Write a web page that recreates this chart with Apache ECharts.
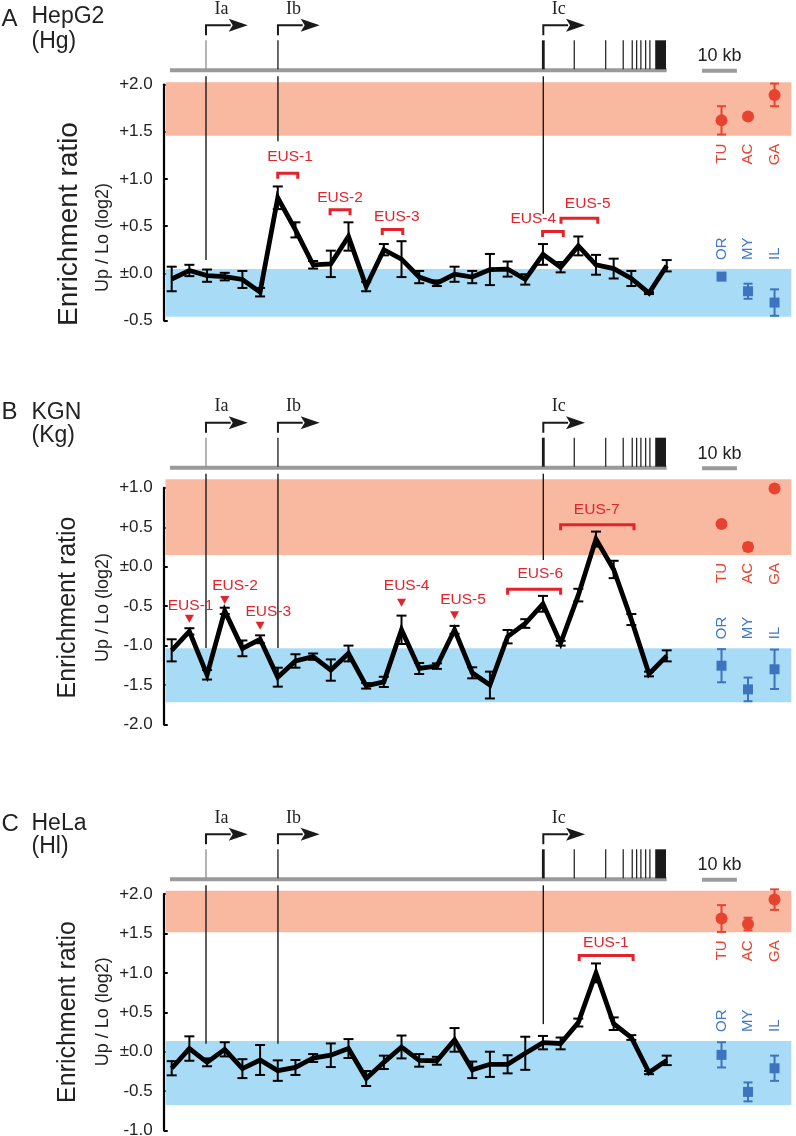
<!DOCTYPE html>
<html><head><meta charset="utf-8">
<script src="https://cdn.jsdelivr.net/npm/echarts@6/dist/echarts.min.js"></script>
<style>html,body{margin:0;padding:0;background:#fff}#c{width:796px;height:1136px}</style>
</head><body><div id="c"></div>
<script>
// ================= DATA =================
// measurement windows along the locus (index of window)
const windowIndex = [0,1,2,3,4,5,6,7,8,9,10,11,12,13,14,15,16,17,18,19,20,21,22,23,24,25,26,27,28];

// Panel A  HepG2 (Hg)
const hepg2Ratio = [-0.06,0.03,-0.025,-0.035,-0.065,-0.20,0.80,0.46,0.09,0.10,0.39,-0.14,0.25,0.15,-0.04,-0.105,-0.01,-0.04,0.04,0.045,-0.065,0.20,0.065,0.29,0.09,0.05,-0.055,-0.21,0.08];
const hepg2Err   = [0.13,0.06,0.065,0.04,0.09,0.045,0.12,0.08,0.04,0.14,0.15,0.05,0.06,0.19,0.065,0.03,0.08,0.065,0.165,0.08,0.055,0.11,0.055,0.10,0.105,0.105,0.08,0.01,0.06];
// Panel B  KGN (Kg)
const kgnRatio = [-1.06,-0.82,-1.37,-0.56,-1.035,-0.92,-1.40,-1.195,-1.14,-1.31,-1.10,-1.51,-1.46,-0.80,-1.29,-1.26,-0.80,-1.345,-1.50,-0.887,-0.72,-0.47,-0.97,-0.36,0.35,-0.035,-0.67,-1.36,-1.13];
const kgnErr   = [0.14,0.04,0.06,0.04,0.10,0.05,0.12,0.085,0.04,0.135,0.10,0.035,0.065,0.18,0.07,0.035,0.05,0.07,0.17,0.085,0.055,0.10,0.03,0.08,0.095,0.11,0.07,0.03,0.07];
// Panel C  HeLa (Hl)
const helaRatio = [-0.21,0.04,-0.135,0.03,-0.215,-0.105,-0.24,-0.20,-0.08,-0.045,0.04,-0.34,-0.135,0.06,-0.11,-0.115,0.15,-0.23,-0.16,-0.16,-0.02,0.115,0.105,0.37,1.00,0.355,0.18,-0.265,-0.11];
const helaErr   = [0.09,0.155,0.05,0.09,0.12,0.19,0.13,0.095,0.05,0.15,0.12,0.095,0.085,0.145,0.08,0.05,0.15,0.105,0.16,0.115,0.21,0.085,0.075,0.05,0.12,0.08,0.03,0.02,0.06];

// reference tissues (right side)
const tissueRed  = ['TU','AC','GA'];
const tissueBlue = ['OR','MY','IL'];
const tissuePos  = [31.1, 32.6, 34.1];
const hepg2Red = [1.62,1.66,1.89],   hepg2RedErr = [0.15,0.03,0.12];
const hepg2Blue = [-0.035,-0.19,-0.31], hepg2BlueErr = [0.03,0.08,0.14];
const kgnRed = [0.54,0.25,0.99],     kgnRedErr = [0,0.05,0];
const kgnBlue = [-1.255,-1.555,-1.30], kgnBlueErr = [0.21,0.15,0.25];
const helaRed = [1.69,1.62,1.93],    helaRedErr = [0.17,0.08,0.13];
const helaBlue = [-0.04,-0.51,-0.21],  helaBlueErr = [0.16,0.12,0.16];

// reference ranges (bands) [low, high]
const hepg2Salmon = [1.458, 2.023], hepg2Sky = [-0.46, 0.046];
const kgnSalmon   = [0.148, 1.108], kgnSky   = [-1.719, -1.034];
const helaSalmon  = [1.515, 2.043], helaSky  = [-0.676, 0.136];

// gene structure (same window-index scale)
const promoterNames = ['Ia','Ib','Ic'];
const promoterPos   = [1.94, 6.01, 21.02];
const exonPos  = [22.77,24.55,25.54,26.05,26.30,26.54,26.81,27.05];
const lastExon = [27.35, 27.96];
const geneSpan = [-0.1, 28.0];
const scaleBar = [30.0, 31.97];
// promoter guide lines: [position, lower end value]
const hepg2Links = [[1.94,0.14],[6.01,1.40],[21.02,0.63]];
const kgnLinks   = [[1.94,-1.03],[6.01,-1.03],[21.02,0.085]];
const helaLinks  = [[1.94,0.10],[6.01,0.10],[21.02,0.35]];

// EUS annotations
const hepg2Eus = [
  {name:'EUS-1', kind:'bracket', from:6.0,  to:7.13,  level:1.076, label:[6.69,1.235]},
  {name:'EUS-2', kind:'bracket', from:8.96, to:10.09, level:0.69,  label:[9.52,0.80]},
  {name:'EUS-3', kind:'bracket', from:11.91,to:13.07, level:0.48,  label:[12.73,0.60]},
  {name:'EUS-4', kind:'bracket', from:20.98,to:22.15, level:0.46,  label:[20.45,0.575]},
  {name:'EUS-5', kind:'bracket', from:22.02,to:24.1,  level:0.60,  label:[23.53,0.74]}
];
const kgnEus = [
  {name:'EUS-1', kind:'mark', at:1.0,  level:-0.71,  label:[1.07,-0.494]},
  {name:'EUS-2', kind:'mark', at:3.0,  level:-0.473, label:[3.58,-0.24]},
  {name:'EUS-3', kind:'mark', at:5.0,  level:-0.80,  label:[5.46,-0.57]},
  {name:'EUS-4', kind:'mark', at:13.0, level:-0.507, label:[13.29,-0.245]},
  {name:'EUS-5', kind:'mark', at:16.0, level:-0.667, label:[16.48,-0.413]},
  {name:'EUS-6', kind:'bracket', from:19.0, to:22.0,  level:-0.266, label:[20.85,-0.093]},
  {name:'EUS-7', kind:'bracket', from:22.0, to:26.15, level:0.55,   label:[24.04,0.72]}
];
const helaEus = [
  {name:'EUS-1', kind:'bracket', from:23.05, to:26.1, level:1.24, label:[24.56,1.383]}
];

// ================= STYLE / LAYOUT =================
const FONT = '"Liberation Sans", Arial, Helvetica, sans-serif';
const SERIF = '"Liberation Serif", "Times New Roman", serif';
const RED_TXT = '#e3232b', RED_PT = '#e8432f', BLUE_PT = '#3e74bf', BLUE_TXT = '#3f79c6';
const SALMON = '#f8b9a0', SKY = '#a8dcf6', GREY = '#9a9a9a', INK = '#1a1a1a';
const GRID_LEFT = 163.74, GRID_WIDTH = 627.6, X_MIN = -0.45, X_MAX = 35.05;

const panels = [
  {letter:'A', cell:'HepG2', abbr:'(Hg)', ratio:hepg2Ratio, err:hepg2Err,
   red:hepg2Red, redErr:hepg2RedErr, blue:hepg2Blue, blueErr:hepg2BlueErr,
   salmon:hepg2Salmon, sky:hepg2Sky, links:hepg2Links, eus:hepg2Eus,
   lay:{top:84.5, height:236, gray:70.3, min:-0.5, max:2.0, letterY:19, cellY:17, abbrY:41.5,
        t1:[69,224,28], t2:[103,237.5]}},
  {letter:'B', cell:'KGN', abbr:'(Kg)', ratio:kgnRatio, err:kgnErr,
   red:kgnRed, redErr:kgnRedErr, blue:kgnBlue, blueErr:kgnBlueErr,
   salmon:kgnSalmon, sky:kgnSky, links:kgnLinks, eus:kgnEus,
   lay:{top:487.8, height:236.7, gray:467.7, min:-2.0, max:1.0, letterY:412.7, cellY:413, abbrY:436,
        t1:[68.5,607.5,25], t2:[103,607.5]}},
  {letter:'C', cell:'HeLa', abbr:'(Hl)', ratio:helaRatio, err:helaErr,
   red:helaRed, redErr:helaRedErr, blue:helaBlue, blueErr:helaBlueErr,
   salmon:helaSalmon, sky:helaSky, links:helaLinks, eus:helaEus,
   lay:{top:894.1, height:236.4, gray:879.3, min:-1.0, max:2.0, letterY:824, cellY:824, abbrY:846.5,
        t1:[68.5,1012,25], t2:[103.3,1011.7]}}
];

function tickFmt(v){
  if (Math.abs(v) < 1e-9) return '\u00b10.0';
  return (v > 0 ? '+' : '') + v.toFixed(1);
}

function errBarItem(color, capHalf, width){
  return function(params, api){
    const x = api.value(0), lo = api.value(1), hi = api.value(2);
    if (!(hi > lo)) return null;
    const a = api.coord([x, hi]), b = api.coord([x, lo]);
    const st = {stroke: color, lineWidth: width};
    return {type:'group', children:[
      {type:'line', shape:{x1:a[0], y1:a[1], x2:b[0], y2:b[1]}, style:st},
      {type:'line', shape:{x1:a[0]-capHalf, y1:a[1], x2:a[0]+capHalf, y2:a[1]}, style:st},
      {type:'line', shape:{x1:b[0]-capHalf, y1:b[1], x2:b[0]+capHalf, y2:b[1]}, style:st}
    ]};
  };
}

const grids = [], xAxes = [], yAxes = [], series = [], graphics = [];

panels.forEach((P, p) => {
  const L = P.lay;
  const gi = grids.length;
  grids.push({left:GRID_LEFT, width:GRID_WIDTH, top:L.top, height:L.height, outerBoundsMode:'none', containLabel:false});
  grids.push({left:GRID_LEFT, width:GRID_WIDTH, top:L.gray-65, height:65, outerBoundsMode:'none', containLabel:false});
  xAxes.push({gridIndex:gi, type:'value', min:X_MIN, max:X_MAX, show:false});
  xAxes.push({gridIndex:gi+1, type:'value', min:X_MIN, max:X_MAX, show:false});
  yAxes.push({gridIndex:gi, type:'value', min:L.min, max:L.max, interval:0.5,
    axisLine:{show:true, onZero:false, lineStyle:{color:'#000', width:2.2}},
    axisTick:{show:true, inside:true, length:4, lineStyle:{color:'#000', width:2}},
    splitLine:{show:false},
    axisLabel:{margin:11, fontSize:17, fontFamily:FONT, color:'#222', formatter:tickFmt}});
  yAxes.push({gridIndex:gi+1, type:'value', min:0, max:65, show:false});

  const ax = {xAxisIndex:gi, yAxisIndex:gi};
  const axd = {xAxisIndex:gi+1, yAxisIndex:gi+1};

  // reference bands
  series.push(Object.assign({type:'custom', clip:false, z:1, silent:true,
    data:[[X_MIN+0.1, X_MAX, P.salmon[0], P.salmon[1]], [X_MIN+0.1, X_MAX, P.sky[0], P.sky[1]]],
    renderItem:(params, api) => {
      const a = api.coord([api.value(0), api.value(3)]);
      const b = api.coord([api.value(1), api.value(2)]);
      return {type:'rect', shape:{x:a[0], y:a[1], width:b[0]-a[0], height:b[1]-a[1]},
        style:{fill: params.dataIndex === 0 ? SALMON : SKY}};
    }}, ax));

  // promoter guide lines
  series.push(Object.assign({type:'custom', clip:false, z:3, silent:true,
    data:P.links.map(l => [l[0], l[1]]),
    renderItem:(params, api) => {
      const b = api.coord([api.value(0), api.value(1)]);
      return {type:'line', shape:{x1:b[0], y1:L.gray+6, x2:b[0], y2:b[1]}, style:{stroke:INK, lineWidth:1.4}};
    }}, ax));

  // error bars on the profile
  series.push(Object.assign({type:'custom', clip:false, z:4, silent:true,
    data:windowIndex.map(i => [i, P.ratio[i]-P.err[i], P.ratio[i]+P.err[i]]),
    renderItem:errBarItem('#000', 5, 2)}, ax));

  // profile line
  series.push(Object.assign({type:'line', z:5, silent:true, symbol:'none', showSymbol:false,
    data:windowIndex.map(i => [i, P.ratio[i]]),
    lineStyle:{color:'#000', width:4.8, join:'miter', miterLimit:6}}, ax));

  // tissue error bars
  series.push(Object.assign({type:'custom', clip:false, z:6, silent:true,
    data:tissuePos.map((x,i) => [x, P.red[i]-P.redErr[i], P.red[i]+P.redErr[i]]),
    renderItem:errBarItem(RED_PT, 4.5, 2)}, ax));
  series.push(Object.assign({type:'custom', clip:false, z:6, silent:true,
    data:tissuePos.map((x,i) => [x, P.blue[i]-P.blueErr[i], P.blue[i]+P.blueErr[i]]),
    renderItem:errBarItem(BLUE_PT, 4.5, 2)}, ax));
  // tissue points
  series.push(Object.assign({type:'scatter', z:7, silent:true, symbol:'circle', symbolSize:12,
    itemStyle:{color:RED_PT, opacity:1}, data:tissuePos.map((x,i) => [x, P.red[i]])}, ax));
  series.push(Object.assign({type:'scatter', z:7, silent:true, symbol:'rect', symbolSize:10,
    itemStyle:{color:BLUE_PT, opacity:1}, data:tissuePos.map((x,i) => [x, P.blue[i]])}, ax));

  // tissue labels (rotated)
  series.push(Object.assign({type:'custom', clip:false, z:7, silent:true,
    data:tissuePos.map(x => [x, P.salmon[0]]),
    renderItem:(params, api) => {
      const a = api.coord([api.value(0), api.value(1)]);
      return {type:'text', x:a[0], y:a[1]+8, rotation:Math.PI/2,
        style:{text:tissueRed[params.dataIndex], font:'15px '+FONT, fill:RED_PT, align:'right', verticalAlign:'middle'}};
    }}, ax));
  series.push(Object.assign({type:'custom', clip:false, z:7, silent:true,
    data:tissuePos.map(x => [x, P.sky[1]]),
    renderItem:(params, api) => {
      const a = api.coord([api.value(0), api.value(1)]);
      return {type:'text', x:a[0], y:a[1]-9, rotation:Math.PI/2,
        style:{text:tissueBlue[params.dataIndex], font:'15px '+FONT, fill:BLUE_TXT, align:'left', verticalAlign:'middle'}};
    }}, ax));

  // EUS annotations
  series.push(Object.assign({type:'custom', clip:false, z:8, silent:true,
    data:P.eus.map(e => [e.kind === 'bracket' ? e.from : e.at, e.level]),
    renderItem:(params, api) => {
      const e = P.eus[params.dataIndex];
      const kids = [];
      if (e.kind === 'bracket') {
        const a = api.coord([e.from, e.level]), b = api.coord([e.to, e.level]);
        kids.push({type:'polyline', shape:{points:[[a[0],a[1]+7],[a[0],a[1]+1.5],[b[0],b[1]+1.5],[b[0],b[1]+7]]},
          style:{stroke:RED_TXT, lineWidth:3, fill:null}});
      } else {
        const t = api.coord([e.at, e.level]);
        kids.push({type:'polygon', shape:{points:[[t[0]-4.5,t[1]-8],[t[0]+4.5,t[1]-8],[t[0],t[1]]]},
          style:{fill:RED_TXT}});
      }
      const l = api.coord(e.label);
      kids.push({type:'text', x:l[0], y:l[1], style:{text:e.name, font:'15.5px '+FONT, fill:RED_TXT, align:'center', verticalAlign:'middle'}});
      return {type:'group', children:kids};
    }}, ax));

  // gene structure diagram
  series.push(Object.assign({type:'custom', clip:false, z:3, silent:true,
    data:[[0,0]],
    renderItem:(params, api) => {
      const c = (x,y) => api.coord([x,y]);
      const kids = [];
      const g0 = c(geneSpan[0],0), g1 = c(geneSpan[1],0);
      kids.push({type:'line', shape:{x1:g0[0],y1:g0[1],x2:g1[0],y2:g1[1]}, style:{stroke:GREY,lineWidth:4}});
      promoterPos.forEach((x,i) => {
        const b = c(x,0), t = c(x,30);
        kids.push({type:'line', shape:{x1:b[0],y1:b[1]-1,x2:t[0],y2:t[1]},
          style:{stroke: i===0 ? '#8c8c8c' : INK, lineWidth: i===2 ? 2.8 : 1.3}});
        const v0 = c(x,35), v1 = c(x,45), h = c(x+1.4,45);
        kids.push({type:'polyline', shape:{points:[v0,v1,h]}, style:{stroke:INK, lineWidth:2, fill:null}});
        kids.push({type:'polygon', shape:{points:[[h[0]-2,h[1]-6.5],[h[0]+17,h[1]],[h[0]-2,h[1]+6.5],[h[0]+2,h[1]]]}, style:{fill:INK}});
        const lb = c(x+0.88,61);
        kids.push({type:'text', x:lb[0], y:lb[1], style:{text:promoterNames[i], font:'18px '+SERIF, fill:'#222', align:'center', verticalAlign:'middle'}});
      });
      exonPos.forEach(x => {
        const b = c(x,0), t = c(x,30);
        kids.push({type:'line', shape:{x1:b[0],y1:b[1]-1,x2:t[0],y2:t[1]}, style:{stroke:INK, lineWidth:1.2}});
      });
      const e0 = c(lastExon[0],30), e1 = c(lastExon[1],0);
      kids.push({type:'rect', shape:{x:e0[0], y:e0[1], width:e1[0]-e0[0], height:e1[1]-e0[1]-1}, style:{fill:INK}});
      const s0 = c(scaleBar[0],-0.5), s1 = c(scaleBar[1],-0.5);
      kids.push({type:'line', shape:{x1:s0[0],y1:s0[1],x2:s1[0],y2:s1[1]}, style:{stroke:GREY,lineWidth:4}});
      const st = c((scaleBar[0]+scaleBar[1])/2, 14);
      kids.push({type:'text', x:st[0], y:st[1], style:{text:'10 kb', font:'18px '+FONT, fill:'#222', align:'center', verticalAlign:'middle'}});
      return {type:'group', children:kids};
    }}, axd));

  // panel labels and axis titles
  graphics.push({type:'text', x:1.5, y:L.letterY, style:{text:P.letter, font:'24px '+FONT, fill:'#222', align:'left', verticalAlign:'middle'}});
  graphics.push({type:'text', x:31.5, y:L.cellY, style:{text:P.cell, font:'23px '+FONT, fill:'#222', align:'left', verticalAlign:'middle'}});
  graphics.push({type:'text', x:31.5, y:L.abbrY, style:{text:P.abbr, font:'23px '+FONT, fill:'#222', align:'left', verticalAlign:'middle'}});
  graphics.push({type:'text', x:L.t1[0], y:L.t1[1], rotation:Math.PI/2,
    style:{text:'Enrichment ratio', font:L.t1[2]+'px '+FONT, fill:'#222', align:'center', verticalAlign:'middle'}});
  graphics.push({type:'text', x:L.t2[0], y:L.t2[1], rotation:Math.PI/2,
    style:{text:'Up / Lo (log2)', font:'18px '+FONT, fill:'#222', align:'center', verticalAlign:'middle'}});
});

const chart = echarts.init(document.getElementById('c'), null, {renderer:'canvas'});
chart.setOption({
  animation:false,
  backgroundColor:'#fff',
  grid:grids, xAxis:xAxes, yAxis:yAxes, series:series, graphic:graphics
});
</script></body></html>
